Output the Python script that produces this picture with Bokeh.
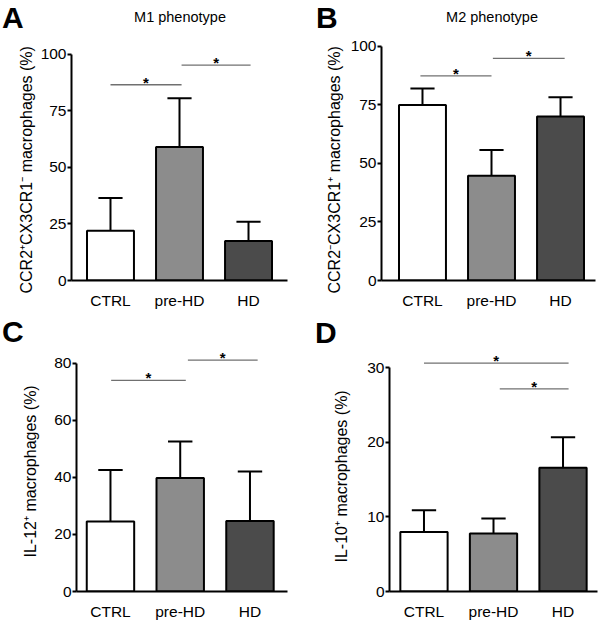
from bokeh.plotting import figure
from bokeh.models import Range1d, FixedTicker, ColumnDataSource, Title, Div
from bokeh.layouts import column, row
from bokeh.embed import file_html
from bokeh.resources import INLINE
from bokeh.core.properties import value

FONT = "Liberation Sans"

categories = ["CTRL", "pre-HD", "HD"]
bar_colors = ["#ffffff", "#8c8c8c", "#4b4b4b"]

# Panel A: M1 phenotype
a_mean = [22.0, 59.0, 17.5]
a_sd = [14.5, 21.5, 8.5]
a_sig = [(0.0, 1.03, 86.5), (1.03, 2.03, 95.2)]

# Panel B: M2 phenotype
b_mean = [75.0, 44.7, 70.0]
b_sd = [7.0, 11.0, 8.3]
b_sig = [(-0.03, 1.0, 87.4), (1.02, 2.06, 94.9)]

# Panel C: IL-12+
c_mean = [24.5, 39.7, 24.7]
c_sd = [18.0, 12.8, 17.3]
c_sig = [(0.01, 1.08, 73.9), (1.11, 2.11, 81.0)]

# Panel D: IL-10+
d_mean = [8.0, 7.8, 16.6]
d_sd = [2.9, 2.0, 4.1]
d_sig = [(0.0, 2.08, 30.65), (1.09, 2.08, 27.2)]


def panel(ylabel, mean, sd, sig, ymax, ystep, yend, left, right, bottom,
          xl, xr, label_offset, label_standoff, h, w=300):
    p = figure(width=w, height=h, output_backend="svg", toolbar_location=None,
               x_range=Range1d(xl, xr), y_range=Range1d(0, yend),
               min_border_left=left, min_border_right=right,
               min_border_top=0, min_border_bottom=bottom)
    p.outline_line_color = None
    p.grid.visible = False
    p.background_fill_color = "white"
    p.border_fill_color = "white"

    xs = list(range(len(categories)))
    src = ColumnDataSource(dict(x=xs, top=mean, color=bar_colors,
                                up=[m + s for m, s in zip(mean, sd)]))
    p.segment(x0="x", y0="top", x1="x", y1="up", source=src,
              line_color="black", line_width=2)
    p.vbar(x="x", top="top", bottom=0, width=0.68, source=src,
           fill_color="color", line_color="black", line_width=2)
    cap_src = ColumnDataSource(dict(x0=[x - 0.175 for x in xs],
                                    x1=[x + 0.175 for x in xs],
                                    y=src.data["up"]))
    p.segment(x0="x0", y0="y", x1="x1", y1="y", source=cap_src,
              line_color="black", line_width=2)

    s_src = ColumnDataSource(dict(x0=[s[0] for s in sig], x1=[s[1] for s in sig],
                                  y=[s[2] for s in sig],
                                  xm=[(s[0] + s[1]) / 2 for s in sig],
                                  t=["*" for s in sig]))
    p.segment(x0="x0", y0="y", x1="x1", y1="y", source=s_src,
              line_color="#707070", line_width=1.3)
    p.text(x="xm", y="y", text="t", source=s_src, text_align="center",
           text_baseline="middle", y_offset=-2.5,
           text_font=value(FONT), text_font_style="bold", text_font_size="15px",
           text_color="black")

    yaxis = p.yaxis[0]
    yaxis.ticker = FixedTicker(ticks=list(range(0, ymax + 1, ystep)))
    yaxis.bounds = (0, ymax)
    yaxis.axis_line_width = 2
    yaxis.major_tick_line_width = 2
    yaxis.major_tick_out = 4
    yaxis.major_tick_in = 0
    yaxis.minor_tick_line_color = None
    yaxis.major_label_text_font = FONT
    yaxis.major_label_text_font_size = "15.5px"
    yaxis.major_label_text_color = "black"
    yaxis.major_label_standoff = 1

    xaxis = p.xaxis[0]
    xaxis.ticker = FixedTicker(ticks=xs)
    xaxis.major_label_overrides = {i: c for i, c in enumerate(categories)}
    xaxis.axis_line_width = 2
    xaxis.major_tick_line_color = None
    xaxis.minor_tick_line_color = None
    xaxis.major_label_text_font = FONT
    xaxis.major_label_text_font_size = "15.5px"
    xaxis.major_label_text_color = "black"
    xaxis.major_label_standoff = 5

    p.add_layout(Title(text=ylabel, align="left", offset=label_offset,
                       text_font=FONT, text_font_size="16px",
                       text_font_style="normal", text_color="black",
                       standoff=label_standoff), "left")
    return p


def header(letter, letter_left, letter_top, title=None, title_center=0, h=36):
    html = ('<div style="position:relative;width:300px;height:%dpx;'
            'font-family:\'Liberation Sans\',Arial,sans-serif;color:#000;">' % h)
    html += ('<span style="position:absolute;left:%dpx;top:%.1fpx;font-size:30px;'
             'line-height:24px;font-weight:bold;white-space:nowrap;">%s</span>'
             % (letter_left, letter_top, letter))
    if title:
        html += ('<span style="position:absolute;left:%dpx;width:200px;top:10.4px;'
                 'text-align:center;font-size:14.5px;line-height:14.5px;'
                 'white-space:nowrap;">%s</span>' % (title_center - 100, title))
    html += '</div>'
    return Div(text=html, width=300, height=h, margin=0)


pa = panel("CCR2\u207aCX3CR1\u207b macrophages (%)", a_mean, a_sd, a_sig,
           100, 25, 248 / 2.3, 71, 13, 27, -0.565, 2.565, -13, 6, 275)
pb = panel("CCR2\u207bCX3CR1\u207a macrophages (%)", b_mean, b_sd, b_sig,
           100, 25, 248 / 2.38, 81, 5, 27, -0.594, 2.507, -13, 9, 275)
pc = panel("IL-12\u207a macrophages (%)", c_mean, c_sd, c_sig,
           80, 20, 253 / 2.9375, 76, 13, 24, -0.487, 2.538, 34, 25, 277)
pd_ = panel("IL-10\u207a macrophages (%)", d_mean, d_sd, d_sig,
            30, 10, 252 / 7.633, 89, 3, 25, -0.496, 2.496, 29, 30, 277)

ha = header("A", 2, 6.1, "M1 phenotype", 180, 36)
hb = header("B", 16, 6.1, "M2 phenotype", 192, 36)
hc = header("C", 2, 9.1, None, 0, 34)
hd = header("D", 15, 9.6, None, 0, 34)

layout = column(
    row(column(ha, pa, spacing=0), column(hb, pb, spacing=0), spacing=0),
    row(column(hc, pc, spacing=0), column(hd, pd_, spacing=0), spacing=0),
    spacing=0)
open("out.html", "w").write(file_html(layout, INLINE))
